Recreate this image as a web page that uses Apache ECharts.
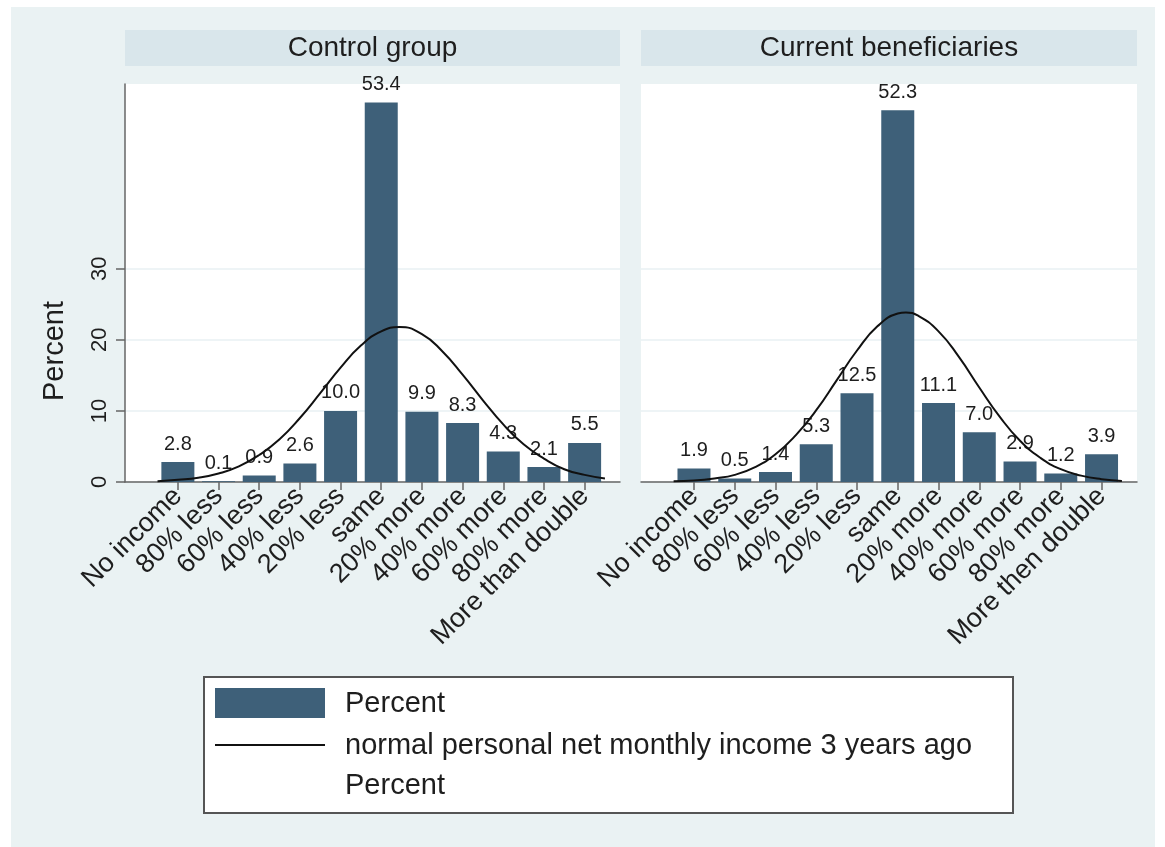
<!DOCTYPE html>
<html>
<head>
<meta charset="utf-8">
<script src="https://cdn.jsdelivr.net/npm/echarts@6/dist/echarts.min.js"></script>
<style>
html,body{margin:0;padding:0;background:#fff;width:1165px;height:847px;overflow:hidden}
#c{position:absolute;left:11px;top:7px;width:1144px;height:840px}
</style>
</head>
<body>
<div id="c"></div>
<script>
// ---------- data ----------
const panelTitles = ['Control group', 'Current beneficiaries'];
const categoriesControl = ['No income','80% less','60% less','40% less','20% less','same','20% more','40% more','60% more','80% more','More than double'];
const categoriesCurrent = ['No income','80% less','60% less','40% less','20% less','same','20% more','40% more','60% more','80% more','More then double'];
const categoryPositions = [1,2,3,4,5,6,7,8,9,10,11];
const percentControl = [2.8,0.1,0.9,2.6,10.0,53.4,9.9,8.3,4.3,2.1,5.5];
const percentCurrent = [1.9,0.5,1.4,5.3,12.5,52.3,11.1,7.0,2.9,1.2,3.9];
// normal curves
const curveXControl = [0.5,1,1.5,2,2.5,3,3.5,4,4.5,5,5.5,6,6.45,7,7.5,8,8.5,9,9.5,10,10.5,11,11.5];
const normalControl = [0.1,0.3,0.6,1.2,2.2,3.8,6.0,9.0,12.5,16.1,19.2,21.2,21.8,20.8,18.4,15.1,11.5,8.1,5.3,3.3,1.8,1.0,0.5];
const curveXCurrent = [0.5,1,1.5,2,2.5,3,3.5,4,4.5,5,5.5,6,6.2,6.5,7,7.5,8,8.5,9,9.5,10,10.5,11,11.5];
const normalCurrent = [0.1,0.2,0.5,1.0,2.1,3.9,6.6,10.1,14.3,18.5,21.9,23.7,23.85,23.4,21.2,17.6,13.3,9.2,5.8,3.4,1.8,0.9,0.4,0.15];
const yTicks = [0,10,20,30];
const legendLabels = ['Percent', 'normal personal net monthly income 3 years ago', 'Percent'];

// ---------- style ----------
const FONT = '"Liberation Sans", Arial, sans-serif';
const BAR = '#3E6079';
const TXT = '#1e1e1e';
const AXIS = '#666';

const panels = [
  {cats: categoriesControl, bars: percentControl, cx: curveXControl, curve: normalControl, left: 114, width: 495},
  {cats: categoriesCurrent, bars: percentCurrent, cx: curveXCurrent, curve: normalCurrent, left: 630, width: 496}
];

const chart = echarts.init(document.getElementById('c'), null, {renderer: 'canvas'});

const option = {
  backgroundColor: '#EAF2F3',
  animation: false,
  textStyle: {fontFamily: FONT},
  title: panels.map((p, i) => ({
    text: panelTitles[i],
    left: p.left + p.width / 2,
    top: 27,
    textAlign: 'center',
    padding: 0,
    textStyle: {fontSize: 28, fontWeight: 'normal', color: TXT, fontFamily: FONT}
  })),
  grid: panels.map(p => ({
    left: p.left, top: 77, width: p.width, height: 398,
    show: true, backgroundColor: '#ffffff', borderWidth: 0
  })),
  xAxis: panels.map((p, i) => ({
    type: 'value', gridIndex: i, min: -0.3, max: 11.87,
    axisLine: {show: true, onZero: false, lineStyle: {color: AXIS, width: 1.5}},
    axisTick: {show: true, customValues: categoryPositions, length: 8, lineStyle: {color: AXIS, width: 1.5}},
    axisLabel: {
      customValues: categoryPositions, rotate: 45, fontSize: 27, color: TXT, margin: 10,
      fontFamily: FONT,
      formatter: v => p.cats[Math.round(v) - 1] || ''
    },
    splitLine: {show: false}
  })),
  yAxis: panels.map((p, i) => ({
    type: 'value', gridIndex: i, min: 0, max: 56,
    axisLine: {show: i === 0, onZero: false, lineStyle: {color: AXIS, width: 1.5}},
    axisTick: {show: i === 0, customValues: yTicks, length: 9, lineStyle: {color: AXIS, width: 1.5}},
    axisLabel: {show: i === 0, customValues: yTicks, rotate: 90, fontSize: 22, color: TXT, margin: 14, fontFamily: FONT},
    splitLine: {show: true, lineStyle: {color: '#E9F1F3', width: 1.5}},
    name: i === 0 ? 'Percent' : '',
    nameLocation: 'middle',
    nameGap: 56,
    nameTextStyle: {fontSize: 29, color: TXT, fontFamily: FONT, padding: [0, 136, 0, 0]}
  })),
  series: panels.flatMap((p, i) => [
    {
      type: 'bar', name: 'Percent', xAxisIndex: i, yAxisIndex: i,
      barWidth: 33,
      data: categoryPositions.map((x, k) => [x, p.bars[k]]),
      itemStyle: {color: BAR},
      label: {
        show: true, position: 'top', distance: 8, fontSize: 20, color: TXT, fontFamily: FONT,
        formatter: d => d.value[1].toFixed(1)
      },
      z: 2
    },
    {
      type: 'line', name: 'normal personal net monthly income 3 years ago',
      xAxisIndex: i, yAxisIndex: i,
      smooth: true, symbol: 'none',
      data: p.cx.map((x, k) => [x, p.curve[k]]),
      lineStyle: {color: '#111', width: 2},
      z: 3
    }
  ]),
  graphic: [
    ...panels.map(p => ({
      type: 'rect', z: -1,
      shape: {x: p.left, y: 23, width: p.width, height: 36},
      style: {fill: '#D9E6EB'}
    })),
    {type: 'rect', shape: {x: 193, y: 670, width: 809, height: 136}, style: {fill: '#fff', stroke: '#555', lineWidth: 2}},
    {type: 'rect', shape: {x: 204, y: 681, width: 110, height: 30}, style: {fill: BAR}},
    {type: 'text', x: 334, y: 697, style: {text: legendLabels[0], fontSize: 29, fontFamily: FONT, fill: TXT, verticalAlign: 'middle'}},
    {type: 'line', shape: {x1: 204, y1: 738, x2: 314, y2: 738}, style: {stroke: '#111', lineWidth: 2}},
    {type: 'text', x: 334, y: 739, style: {text: legendLabels[1], fontSize: 29, fontFamily: FONT, fill: TXT, verticalAlign: 'middle'}},
    {type: 'text', x: 334, y: 779, style: {text: legendLabels[2], fontSize: 29, fontFamily: FONT, fill: TXT, verticalAlign: 'middle'}}
  ]
};
chart.setOption(option);
</script>
</body>
</html>
